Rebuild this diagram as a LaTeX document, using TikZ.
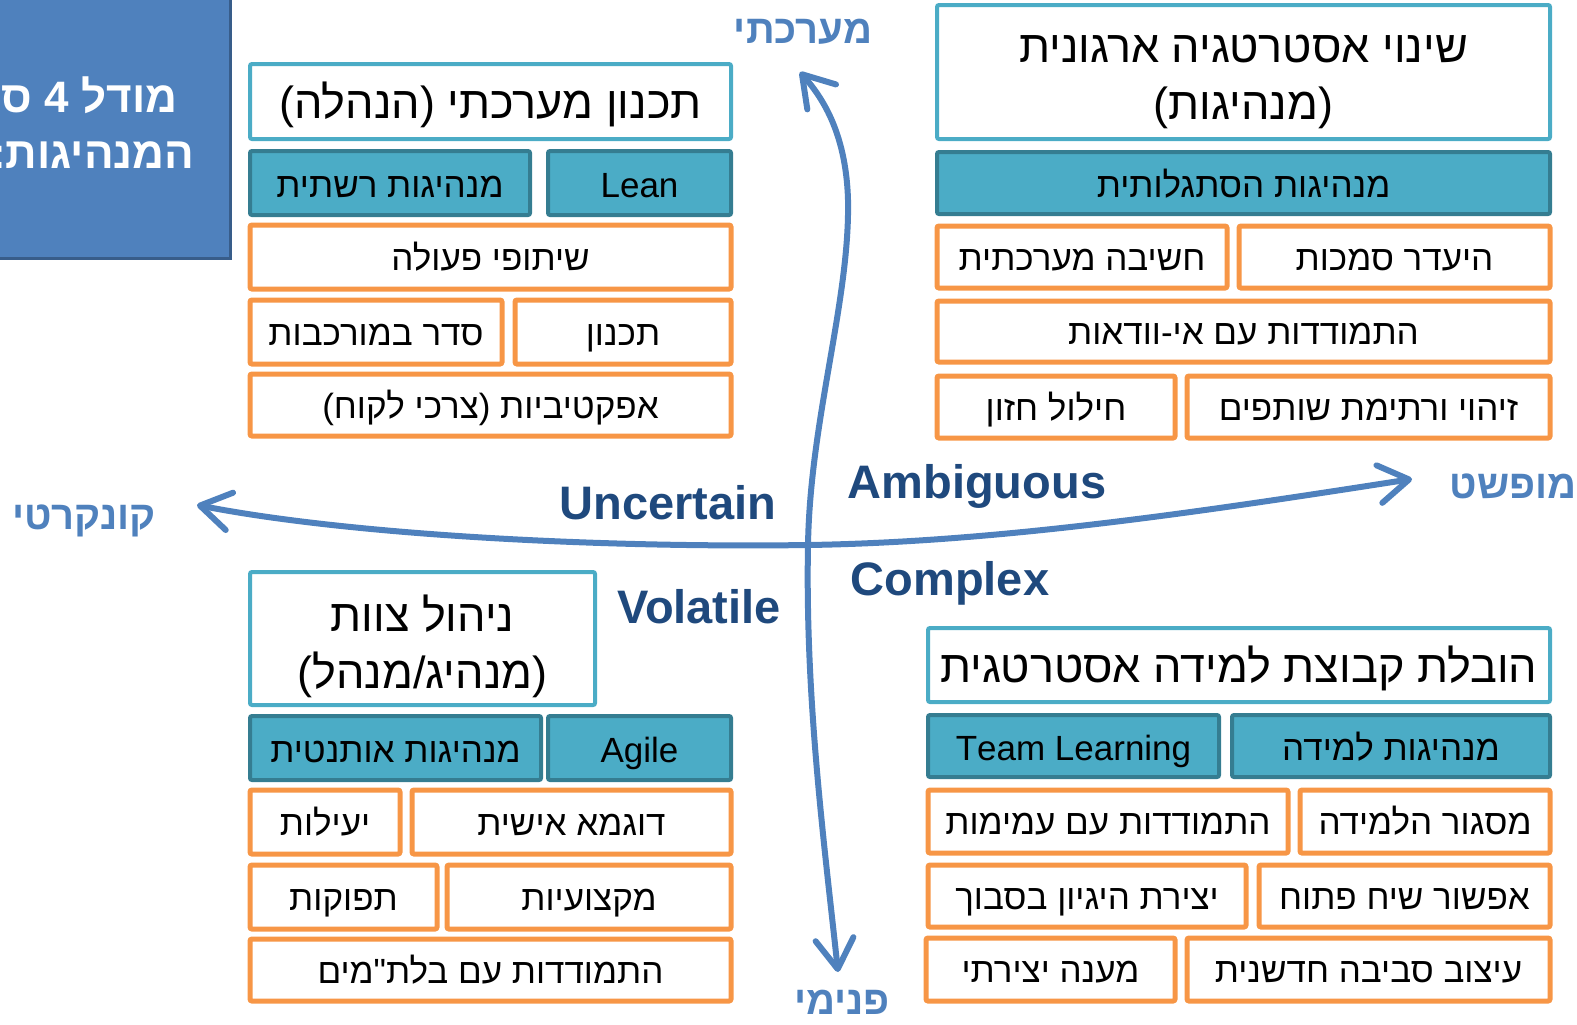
\documentclass[tikz,border=0pt]{standalone}
\usepackage{fontspec}
\setmainfont{Liberation Sans}
\newfontfamily\hebfont[Script=Hebrew]{Liberation Sans}
\TeXXeTstate=1
\usetikzlibrary{arrows.meta}
\definecolor{axisblue}{HTML}{4F81BD}
\definecolor{vucablue}{HTML}{1F497D}
\definecolor{frameblue}{HTML}{385D8A}
\definecolor{leadfill}{HTML}{4BACC6}
\definecolor{leadedge}{HTML}{357D91}
\definecolor{itemorange}{HTML}{F79646}

\newcommand{\rl}[1]{\beginR#1\endR}
% box with its text node: [text options], style prefix, name, x1, y1, x2, y2, text
\newcommand{\boxcell}[8][]{%
  \draw[#2box] ({#4+2},{#5+2}) rectangle ({#6-2},{#7-2});
  \node[#2text,#1] (#3) at ({(#4+#6)/2},{(#5+#7)/2}) {#8};}

\tikzset{
  titlebox/.style={draw=leadfill, line width=2pt, fill=white, rounded corners=1pt},
  titletext/.style={font=\hebfont\fontsize{22.5}{28.5}\selectfont, align=center,
    anchor=base, yshift=-8.5pt},
  leadbox/.style={draw=leadedge, line width=2pt, fill=leadfill, rounded corners=1pt},
  leadtext/.style={font=\hebfont\fontsize{17.5}{22}\selectfont, anchor=base, yshift=-7pt},
  itembox/.style={draw=itemorange, line width=2.5pt, fill=white, rounded corners=1pt},
  itemtext/.style={font=\hebfont\fontsize{17.5}{22}\selectfont, anchor=base, yshift=-6.5pt},
  axisline/.style={draw=axisblue, line width=3pt, line cap=round,
    >={Straight Barb[length=15pt,width=19pt,line cap=round,line join=round]}},
  axislabel/.style={font=\hebfont\bfseries\fontsize{20}{24}\selectfont, text=axisblue},
  vucalabel/.style={font=\bfseries\fontsize{23.5}{28}\selectfont, text=vucablue},
  bluetitle/.style={font=\hebfont\bfseries\fontsize{22}{28}\selectfont, text=white,
    inner sep=0pt}
}

\begin{document}
\begin{tikzpicture}[x=0.5pt, y=-0.5pt]
  \clip (0,0) rectangle (1577,1024);

  % title panel, cut by the left edge
  \draw[fill=axisblue, draw=frameblue, line width=1.5pt] (-40,-40) rectangle (230.5,258.5);
  \node[bluetitle, anchor=base east] (titleA) at (178,112) {\rl{מודל 4 סגנונות}};
  \node[bluetitle, anchor=base east] (titleB) at (195,168) {\rl{המנהיגות:}};

  % axes
  \coordinate (west) at (197,505);
  \coordinate (east) at (1412,479);
  \coordinate (north) at (800,72);
  \coordinate (south) at (838,972);
  \coordinate (mid) at (808,545);
  \draw[axisline, <->] (west) .. controls (350,535) and (600,548) .. (mid)
    .. controls (1000,542) and (1200,512) .. (east);
  \draw[axisline, <->] (south) .. controls (825,850) and (805,700) .. (mid)
    .. controls (810,420) and (850,300) .. (848,200)
    .. controls (846,130) and (820,95) .. (north);

  \node[axislabel] (systemic) at (803,32) {\rl{מערכתי}};
  \node[axislabel] (concrete) at (84,521) {\rl{קונקרטי}};
  \node[axislabel] (abstract) at (1513,486) {\rl{מופשט}};
  \node[axislabel] (internal) at (842,1002) {\rl{פנימי}};

  \node[vucalabel] (uncertain) at (668,503) {Uncertain};
  \node[vucalabel] (ambiguous) at (977,486) {Ambiguous};
  \node[vucalabel] (complex) at (950,583) {Complex};
  \node[vucalabel] (volatile) at (699,607) {Volatile};

  % top left
  \boxcell{title}{planning}{248}{62}{733}{141}{\rl{תכנון מערכתי (הנהלה)}}
  \boxcell{lead}{networked}{248}{149}{532}{217}{\rl{מנהיגות רשתית}}
  \boxcell{lead}{lean}{546}{149}{733}{217}{Lean}
  \boxcell{item}{cooperation}{248}{223}{733}{291}{\rl{שיתופי פעולה}}
  \boxcell{item}{order}{248}{298}{504}{366}{\rl{סדר במורכבות}}
  \boxcell{item}{planitem}{513}{298}{733}{366}{\rl{תכנון}}
  \boxcell{item}{effective}{248}{372}{733}{438}{\rl{אפקטיביות (צרכי לקוח)}}

  % top right
  \boxcell[anchor=center, yshift=3.5pt]{title}{strategy}{935}{3}{1552}{141}{\rl{שינוי אסטרטגיה ארגונית}\\\rl{(מנהיגות)}}
  \boxcell{lead}{adaptive}{935}{150}{1552}{216}{\rl{מנהיגות הסתגלותית}}
  \boxcell{item}{systems}{935}{224}{1229}{290}{\rl{חשיבה מערכתית}}
  \boxcell{item}{noauthority}{1237}{224}{1552}{290}{\rl{היעדר סמכות}}
  \boxcell{item}{uncertainty}{935}{299}{1552}{364}{\rl{התמודדות עם אי-וודאות}}
  \boxcell{item}{vision}{935}{374}{1177}{440}{\rl{חילול חזון}}
  \boxcell{item}{partners}{1185}{374}{1552}{440}{\rl{זיהוי ורתימת שותפים}}

  % bottom left
  \boxcell[anchor=center, yshift=4.5pt]{title}{team}{248}{570}{597}{707}{\rl{ניהול צוות}\\\rl{(מנהיג/מנהל)}}
  \boxcell{lead}{authentic}{248}{714}{543}{782}{\rl{מנהיגות אותנטית}}
  \boxcell{lead}{agile}{546}{714}{733}{782}{Agile}
  \boxcell{item}{efficiency}{248}{788}{402}{856}{\rl{יעילות}}
  \boxcell{item}{example}{410}{788}{733}{856}{\rl{דוגמא אישית}}
  \boxcell{item}{outputs}{248}{863}{439}{931}{\rl{תפוקות}}
  \boxcell{item}{professional}{445}{863}{733}{931}{\rl{מקצועיות}}
  \boxcell{item}{unexpected}{248}{937}{733}{1003}{\rl{התמודדות עם בלת"מים}}

  % bottom right
  \boxcell{title}{learning}{926}{626}{1552}{704}{\rl{הובלת קבוצת למידה אסטרטגית}}
  \boxcell{lead}{teamlearning}{926}{713}{1221}{779}{Team Learning}
  \boxcell{lead}{learninglead}{1230}{713}{1552}{779}{\rl{מנהיגות למידה}}
  \boxcell{item}{ambiguity}{926}{788}{1290}{855}{\rl{התמודדות עם עמימות}}
  \boxcell{item}{framing}{1298}{788}{1552}{855}{\rl{מסגור הלמידה}}
  \boxcell{item}{sensemaking}{926}{863}{1248}{929}{\rl{יצירת היגיון בסבוך}}
  \boxcell{item}{dialogue}{1257}{863}{1552}{929}{\rl{אפשור שיח פתוח}}
  \boxcell{item}{creative}{924}{936}{1177}{1003}{\rl{מענה יצירתי}}
  \boxcell{item}{innovative}{1185}{936}{1552}{1003}{\rl{עיצוב סביבה חדשנית}}
\end{tikzpicture}
\end{document}
